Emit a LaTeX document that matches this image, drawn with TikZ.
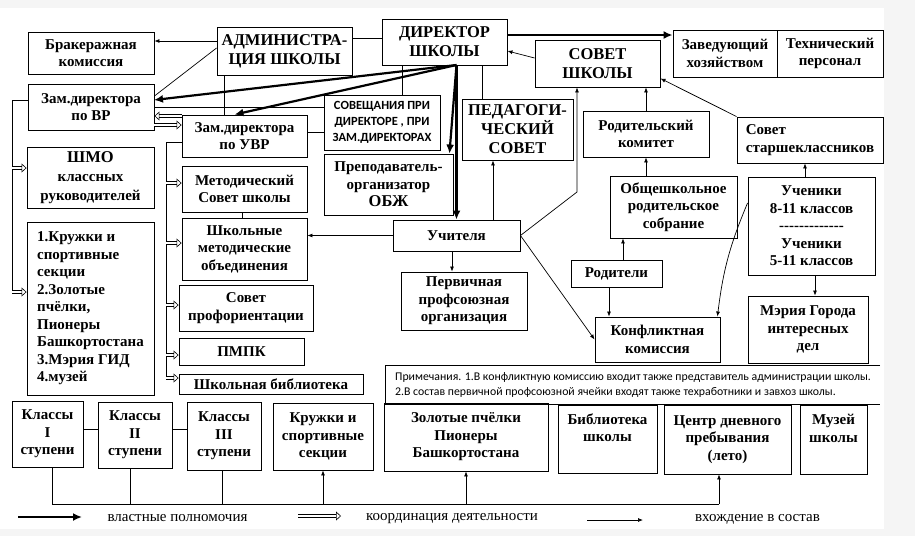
\documentclass[tikz,border=0pt]{standalone}
\usepackage{fontspec}
\setmainfont{Liberation Serif}
\newfontfamily\notefont{Carlito}
\usetikzlibrary{arrows.meta}

\begin{document}
\begin{tikzpicture}[
    x=1pt, y=-1pt,
    every node/.style={align=center},
    wh/.style 2 args={minimum width=#1pt, minimum height=#2pt},
    box/.style={rectangle, draw, line width=0.9pt, inner sep=1pt, font=\bfseries\fontsize{15}{17.5}\selectfont},
    capsbox/.style={box, font=\bfseries\fontsize{16.5}{19}\selectfont},
    smallbox/.style={box, font=\notefont\bfseries\fontsize{12.5}{16}\selectfont},
    link/.style={line width=0.7pt},
    member/.style={line width=0.7pt, -{Latex[length=5pt,width=4pt]}},
    power/.style={line width=2.2pt, -{Latex[length=9pt,width=8pt]}},
    coord/.style={double, double distance=2.4pt, line width=0.6pt, -{Triangle[open,length=5pt,width=9pt,line width=0.6pt]}},
    legend/.style={font=\fontsize{15}{17}\selectfont}
]
\useasboundingbox (0,0) rectangle (915,536);
\fill[black!4] (0,0) rectangle (915,536);
\fill[white] (0,8) rectangle (884,529);

% Top row
\node[box, wh={126}{42}] (brak) at (91,53) {Бракеражная\\комиссия};
\node[capsbox, wh={135}{48}] (admin) at (284.5,51) {АДМИНИСТРА-\\ЦИЯ ШКОЛЫ};
\node[capsbox, wh={125}{46}] (dir) at (444.5,42) {ДИРЕКТОР\\ШКОЛЫ};
\node[capsbox, wh={125}{47}] (sovsch) at (597.5,63.5) {СОВЕТ\\ШКОЛЫ};
\node[box, wh={104}{47}] (zav) at (725,53.5) {Заведующий\\хозяйством};
\node[box, wh={106}{47}] (tech) at (830,53.5) {Технический\\персонал};

% Administration and deputies
\node[box, wh={126}{46}] (zamvr) at (91,107) {Зам.директора\\по ВР};
\node[box, wh={125}{42}] (zamuvr) at (244.5,136) {Зам.директора\\по УВР};
\node[smallbox, wh={116}{55}] (sovesh) at (382,122.5) {СОВЕЩАНИЯ ПРИ\\ДИРЕКТОРЕ , ПРИ\\ЗАМ.ДИРЕКТОРАХ};
\node[capsbox, wh={111}{61}] (pedsov) at (517.5,129.5) {ПЕДАГОГИ-\\ЧЕСКИЙ\\СОВЕТ};
\node[box, wh={129}{61}] (obzh) at (388.5,184.5) {Преподаватель-\\организатор\\{\fontsize{16.5}{19}\selectfont ОБЖ}};
\node[box, wh={126}{46}] (rodkom) at (646,134) {Родительский\\комитет};
\node[box, wh={146}{46}, align=left] (starsh) at (810,140) {Совет\\старшеклассников};

% Left column
\node[capsbox, wh={127}{61}] (shmo) at (90.5,177.5) {ШМО\\{\fontsize{15}{17.5}\selectfont классных}\\{\fontsize{15}{17.5}\selectfont руководителей}};
\node[box, wh={127}{173}, align=left] (clubs) at (90.5,308.5) {1.Кружки и\\спортивные\\секции\\2.Золотые\\пчёлки,\\Пионеры\\Башкортостана\\3.Мэрия ГИД\\4.музей};
\node[box, wh={125}{46}] (metsov) at (244.5,189) {Методический\\Совет школы};
\node[box, wh={125}{62}] (metob) at (244.5,249) {Школьные\\методические\\объединения};
\node[box, wh={134}{46}] (proforient) at (246,308) {Совет\\профориентации};
\node[box, wh={125}{27}] (pmpk) at (241.5,351.5) {ПМПК};
\node[box, wh={184}{20}] (library) at (271,384) {Школьная библиотека};

% Teachers and parents
\node[box, wh={127}{31}] (teachers) at (456.5,235.5) {Учителя};
\node[box, wh={126}{58}] (union) at (464,301) {Первичная\\профсоюзная\\организация};
\node[box, wh={127}{62}] (meeting) at (673.5,207) {Общешкольное\\родительское\\собрание};
\node[box, wh={91}{27}] (parents) at (616.5,273.5) {Родители};
\node[box, wh={125}{45}] (conflict) at (657.5,339.5) {Конфликтная\\комиссия};
\node[box, wh={127}{98}] (pupils) at (811.5,226) {Ученики\\8-11 классов\\{-}{-}{-}{-}{-}{-}{-}{-}{-}{-}{-}{-}{-}\\Ученики\\5-11 классов};
\node[box, wh={120}{67}] (mayor) at (808,329.5) {Мэрия Города\\интересных\\дел};

% Notes
\node[font=\notefont\fontsize{11.8}{15.5}\selectfont, align=left] (notes) at (633,385) {Примечания. 1.В конфликтную комиссию входит также представитель администрации школы.\\2.В состав первичной профсоюзной ячейки входят также техработники и завхоз школы.};
\draw[link] (880,365) -- (385,365) -- (385,404) -- (880,404);

% Bottom row
\node[box, wh={71}{66}] (cls1) at (47.5,434) {Классы\\I\\ступени};
\node[box, wh={74}{66}] (cls2) at (135,435) {Классы\\II\\ступени};
\node[box, wh={74}{68}] (cls3) at (224,436) {Классы\\III\\ступени};
\node[box, wh={100}{67}] (sport) at (323,436.5) {Кружки и\\спортивные\\секции};
\node[box, wh={164}{68}] (bees) at (466,437) {Золотые пчёлки\\Пионеры\\Башкортостана};
\node[box, wh={99}{68}] (schlib) at (607.5,439) {Библиотека\\школы\\\strut};
\node[box, wh={127}{69}] (daycentre) at (727.5,439.5) {Центр дневного\\пребывания\\(лето)};
\node[box, wh={67}{69}] (museum) at (833.5,439.5) {Музей\\школы\\\strut};

% Legend
\node[legend] (legpower) at (177.5,518) {властные полномочия};
\node[legend] (legcoord) at (452,519) {координация деятельности};
\node[legend] (legmember) at (757.5,519) {вхождение в состав};
\coordinate (lpA) at (18,517);
\coordinate (lpB) at (82,517);
\coordinate (lcA) at (298,516);
\coordinate (lcB) at (341,516);
\coordinate (lmA) at (587,520);
\coordinate (lmB) at (643,520);

% Bus points
\coordinate (fan) at (456.5,65);
\coordinate (vrtop) at (12,100);
\coordinate (vrbot) at (12,292);
\coordinate (uvrtop) at (166,142);
\coordinate (uvrbot) at (166,380);
\coordinate (tbend) at (577,192);
\coordinate (busL) at (52,504);
\coordinate (busR) at (719,504);

% Power lines
\draw[power] (fan) -- (154,100);
\draw[power] (fan) -- ([xshift=-10pt]zamuvr.north);
\draw[power] (fan) -- ([xshift=-4pt]obzh.north east);
\draw[power] (fan) -- (teachers.north);
\draw[power] (dir.east |- 0,35) -- (zav.west |- 0,35);

% Membership arrows
\draw[member] (admin.west |- 0,41) -- (brak.east |- 0,41);
\draw[member] (sovsch.west |- 0,58) -- (dir.east |- 0,51);
\draw[member] (teachers.west) -- (teachers.west -| metob.east);
\draw[member] ([xshift=-4.5pt]teachers.south) -- (452,0 |- union.north);
\draw[member] ([xshift=36.5pt]teachers.north) -- (493,0 |- pedsov.south);
\draw[member] (teachers.east) -- (tbend) -- (tbend |- sovsch.south);
\draw[member] (teachers.east) -- (conflict.west);
\draw[member] ([xshift=-7.5pt]parents.south) -- (609,0 |- conflict.north);
\draw[member] ([xshift=6.5pt]parents.north) -- (623,0 |- meeting.south);
\draw[member] ([xshift=-27.5pt]meeting.north) -- (rodkom.south);
\draw[member] (rodkom.north) -- (rodkom.north |- sovsch.south);
\draw[member] (starsh.north west) -- ([yshift=9pt]sovsch.south east);
\draw[member] ([xshift=-6.5pt]pupils.north) -- (805,0 |- starsh.south);
\draw[member] ([xshift=3.5pt]pupils.south) -- (815,0 |- mayor.north);
\draw[member] ([yshift=23pt]pupils.west) to[bend right=8] ([xshift=-3pt]conflict.north east);

% Plain links
\draw[link] (admin.west |- 0,48) -- (zamvr.east |- 0,96);
\draw[link] (admin.east |- 0,38) -- (dir.west |- 0,38);
\draw[link] (224,0 |- admin.south) -- (224,0 |- zamuvr.north);
\draw[link] (zamvr.east) -- (zamvr.east -| sovesh.west);
\draw[link] (zamuvr.east |- 0,132) -- (sovesh.west |- 0,132);
\draw[link] (402,0 |- dir.south) -- (402,0 |- sovesh.north);
\draw[link] (482,0 |- dir.south) -- (482,0 |- pedsov.north);
\draw[link] (242,0 |- metsov.south) -- (242,0 |- metob.north);

% Coordination (hollow) arrows
\draw[coord] (zamuvr.west |- 0,116) -- (zamvr.east |- 0,116);
\draw[coord] (zamvr.east |- 0,125) -- (zamuvr.west |- 0,125);
\draw[link] (zamvr.west |- vrtop) -- (vrtop) -- (vrbot);
\draw[coord] (vrtop |- 0,168) -- (shmo.west |- 0,168);
\draw[coord] (vrbot) -- (clubs.west |- vrbot);
\draw[link] (zamuvr.west |- uvrtop) -- (uvrtop) -- (uvrbot);
\draw[coord] (uvrtop |- 0,183) -- (metsov.west |- 0,183);
\draw[coord] (uvrtop |- 0,243) -- (metob.west |- 0,243);
\draw[coord] (uvrtop |- 0,305) -- (proforient.west |- 0,305);
\draw[coord] (uvrtop |- 0,355) -- (pmpk.west |- 0,355);
\draw[coord] (uvrbot |- 0,378) -- (library.west |- 0,378);

% Bottom links
\draw[link] (cls1.east |- 0,429) -- (cls2.west |- 0,429);
\draw[link] (cls2.east |- 0,429) -- (cls3.west |- 0,429);
\draw[link] (busL |- cls1.south) -- (busL) -- (busR);
\draw[link] (130,0 |- cls2.south) -- (130,0 |- busL);
\draw[link] (222,0 |- cls3.south) -- (222,0 |- busL);
\draw[member] (sport.south |- busL) -- (sport.south);
\draw[member] (bees.south |- busL) -- (bees.south);
\draw[member] (busR) -- (busR |- daycentre.south);

% Legend arrows
\draw[power] (lpA) -- (lpB);
\draw[coord] (lcA) -- (lcB);
\draw[member] (lmA) -- (lmB);

\end{tikzpicture}
\end{document}
